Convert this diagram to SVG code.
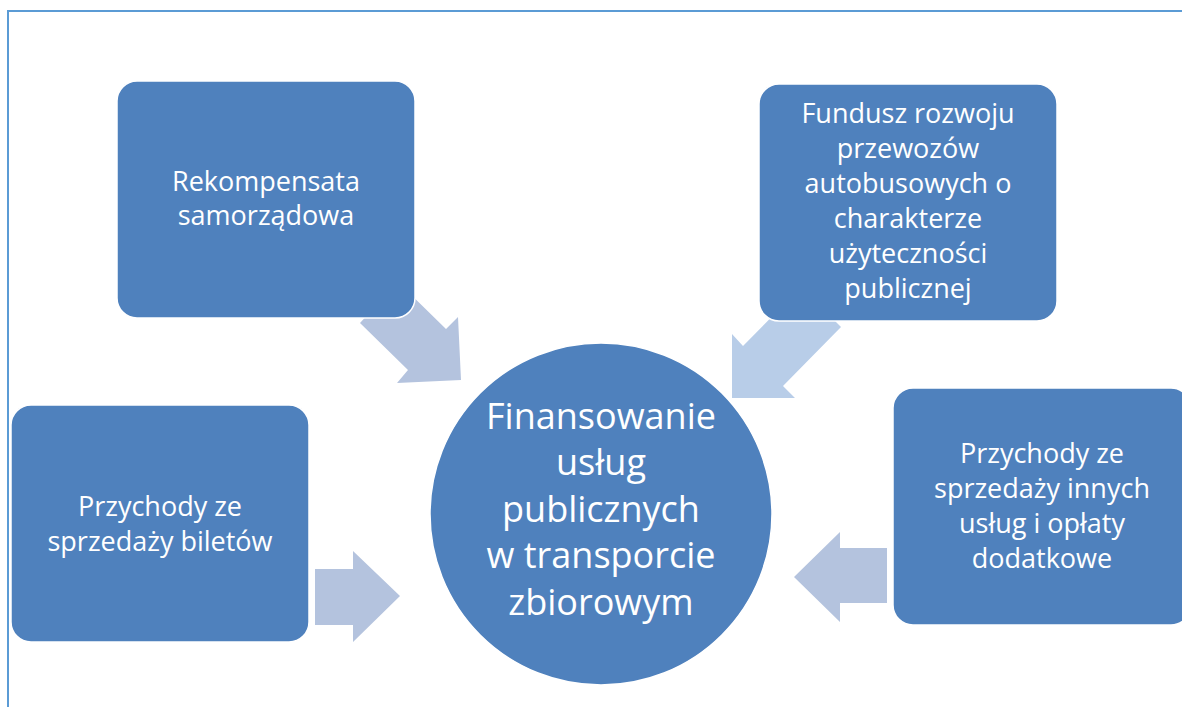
<svg xmlns="http://www.w3.org/2000/svg" width="1182" height="707" viewBox="0 0 1182 707">
<style>
.box{fill:#4f81bd;stroke:#ffffff;stroke-width:1.5}
.t{fill:#ffffff;font-family:"Open Sans","Liberation Sans",sans-serif;font-size:27px;text-anchor:middle}
.tc{fill:#ffffff;font-family:"Open Sans","Liberation Sans",sans-serif;font-size:36px;text-anchor:middle}
.a1{fill:#b4c3de}
.a2{fill:#b8cde8}
</style>
<rect width="1182" height="707" fill="#ffffff"/>
<g id="frame" fill="none" stroke="#5b9bd5" stroke-width="2">
<line x1="8" y1="11" x2="1182" y2="11"/>
<line x1="8" y1="10" x2="8" y2="707"/>
</g>
<g id="connectors">
<polygon class="a1" points="360,323 398,282 446,329 458,317 461,380 397,383 408,370"/>
<polygon class="a2" points="841,327 801,287 743,346 732,334 732,398 795,398 783,386"/>
<polygon class="a1" points="315,569 353,569 353,551 400,596 353,642 353,625 315,625"/>
<polygon class="a1" points="794,577 840,532 840,548 887,548 887,603 840,603 840,622"/>
</g>
<g id="rekompensata">
<rect class="box" x="117" y="81" width="298" height="237" rx="20"/>
<text class="t" x="266" y="191">Rekompensata</text>
<text class="t" x="266" y="225">samorządowa</text>
</g>
<g id="fundusz">
<rect class="box" x="759" y="84" width="298" height="237" rx="20"/>
<text class="t" x="908" y="123">Fundusz rozwoju</text>
<text class="t" x="908" y="158">przewozów</text>
<text class="t" x="908" y="193">autobusowych o</text>
<text class="t" x="908" y="228">charakterze</text>
<text class="t" x="908" y="263">użyteczności</text>
<text class="t" x="908" y="298">publicznej</text>
</g>
<g id="bilety">
<rect class="box" x="11" y="405" width="298" height="237" rx="20"/>
<text class="t" x="160" y="516">Przychody ze</text>
<text class="t" x="160" y="551">sprzedaży biletów</text>
</g>
<g id="inne">
<rect class="box" x="893" y="388" width="298" height="237" rx="20"/>
<text class="t" x="1042" y="463">Przychody ze</text>
<text class="t" x="1042" y="498">sprzedaży innych</text>
<text class="t" x="1042" y="533">usług i opłaty</text>
<text class="t" x="1042" y="568">dodatkowe</text>
</g>
<g id="finansowanie">
<circle class="box" cx="601" cy="514" r="171"/>
<text class="tc" x="601" y="429">Finansowanie</text>
<text class="tc" x="601" y="475">usług</text>
<text class="tc" x="601" y="522">publicznych</text>
<text class="tc" x="601" y="568">w transporcie</text>
<text class="tc" x="601" y="615">zbiorowym</text>
</g>
</svg>
